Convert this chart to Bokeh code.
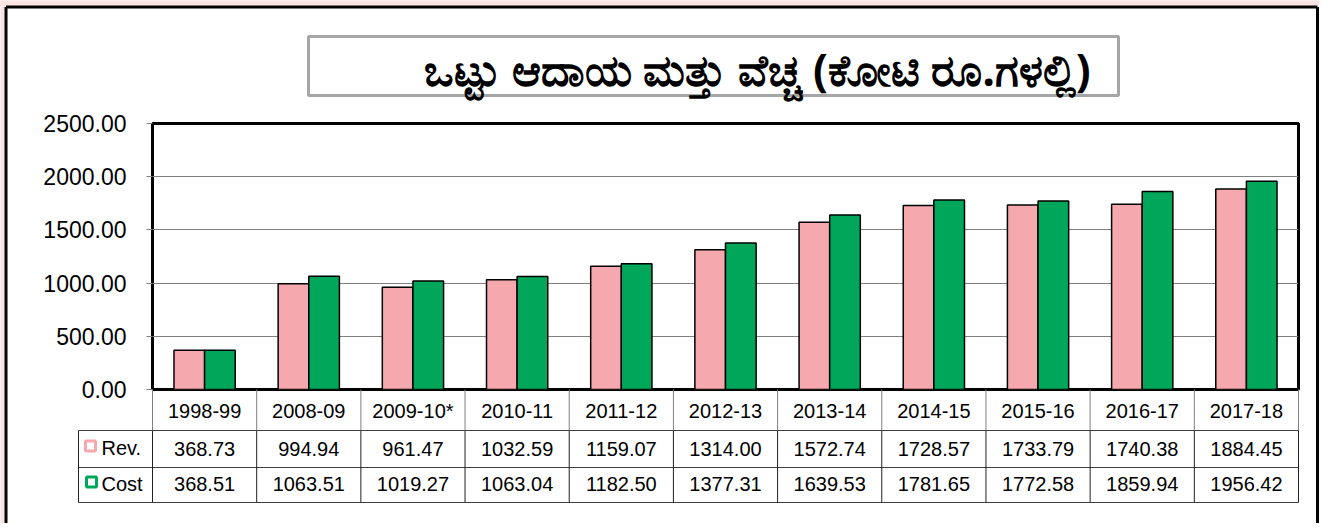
from bokeh.plotting import figure
from bokeh.models import Range1d, FixedTicker, NumeralTickFormatter, ColumnDataSource
from bokeh.core.properties import value
from bokeh.embed import file_html
from bokeh.resources import INLINE
import numpy as np

# ---------------- data ----------------
years = ["1998-99", "2008-09", "2009-10*", "2010-11", "2011-12", "2012-13",
         "2013-14", "2014-15", "2015-16", "2016-17", "2017-18"]
rev = [368.73, 994.94, 961.47, 1032.59, 1159.07, 1314.00,
       1572.74, 1728.57, 1733.79, 1740.38, 1884.45]
cost = [368.51, 1063.51, 1019.27, 1063.04, 1182.50, 1377.31,
        1639.53, 1781.65, 1772.58, 1859.94, 1956.42]
y_ticks = [0, 500, 1000, 1500, 2000, 2500]
series_names = ["Rev.", "Cost"]
title_text = "ಒಟ್ಟು ಆದಾಯ ಮತ್ತು ವೆಚ್ಚ (ಕೋಟಿ ರೂ.ಗಳಲ್ಲಿ)"

# ---------------- style ----------------
PINK = "#F5A9AE"
GREEN = "#00A65A"
BG_PINK = "#FCE4E2"
FONT = value("Liberation Sans")

W, H = 1319, 523
F_LEFT, F_RIGHT, F_TOP, F_BOTTOM = 152, 1298, 123, 389
n = len(years)
YMAX = y_ticks[-1]


def X(px):
    return (px - F_LEFT) / (F_RIGHT - F_LEFT) * n


def Y(py):
    return (F_BOTTOM - py) / (F_BOTTOM - F_TOP) * YMAX


p = figure(width=W, height=H, x_range=Range1d(0, n), y_range=Range1d(0, YMAX),
           output_backend="svg", toolbar_location=None, x_axis_location=None,
           min_border_left=F_LEFT, min_border_right=W - F_RIGHT,
           min_border_top=F_TOP, min_border_bottom=H - F_BOTTOM,
           background_fill_color="white", border_fill_color="white",
           outline_line_color="black", outline_line_width=3)

p.yaxis.ticker = FixedTicker(ticks=y_ticks)
p.yaxis.formatter = NumeralTickFormatter(format="0.00")
p.yaxis.axis_line_color = None
p.yaxis.major_tick_line_color = "#808080"
p.yaxis.major_tick_out = 6
p.yaxis.major_tick_in = 0
p.yaxis.minor_tick_line_color = None
p.yaxis.major_label_text_font = "Liberation Sans"
p.yaxis.major_label_text_font_size = "23px"
p.yaxis.major_label_text_color = "black"
p.yaxis.major_label_standoff = 20
p.ygrid.grid_line_color = "#808080"
p.ygrid.grid_line_width = 1
p.xgrid.grid_line_color = None

idx = np.arange(n)
BW = 0.294
src = ColumnDataSource(dict(year=years, rev=rev, cost=cost,
                            xr=idx + 0.5 - BW / 2, xc=idx + 0.5 + BW / 2))
p.vbar(x="xr", top="rev", bottom=0, width=BW, fill_color=PINK,
       line_color="black", line_width=1.5, source=src)
p.vbar(x="xc", top="cost", bottom=0, width=BW, fill_color=GREEN,
       line_color="black", line_width=1.5, source=src)

# ---------------- data table below plot ----------------
TBL_L = 78
R_HDR, R_REV, R_COST = 430, 467, 502
p.segment(x0=[X(TBL_L)] * 3, x1=[n] * 3, y0=[Y(R_HDR), Y(R_REV), Y(R_COST)],
          y1=[Y(R_HDR), Y(R_REV), Y(R_COST)], line_color="#404040",
          line_width=1, level="overlay")
p.segment(x0=list(range(n + 1)), x1=list(range(n + 1)), y0=[Y(F_BOTTOM)] * (n + 1),
          y1=[Y(R_HDR)] * (n + 1), line_color="#808080", line_width=1,
          level="overlay")
vx = [X(TBL_L)] + list(range(n + 1))
p.segment(x0=vx, x1=vx, y0=[Y(R_HDR)] * len(vx), y1=[Y(R_COST)] * len(vx),
          line_color="#202020", line_width=1, level="overlay")

txt_kw = dict(text_font=FONT, text_font_size="20px", text_color="black",
              text_baseline="middle", level="overlay")
p.text(x=idx + 0.5, y=[Y(410)] * n, text=years, text_align="center", **txt_kw)
p.text(x=idx + 0.5, y=[Y(448)] * n, text=[f"{v:.2f}" for v in rev],
       text_align="center", **txt_kw)
p.text(x=idx + 0.5, y=[Y(483.5)] * n, text=[f"{v:.2f}" for v in cost],
       text_align="center", **txt_kw)
p.text(x=[X(101)] * 2, y=[Y(447.5), Y(483)], text=series_names,
       text_align="left", **txt_kw)
# legend keys (hollow squares)
p.quad(left=[X(85), X(86)], right=[X(95), X(96)], top=[Y(440.5), Y(476.5)],
       bottom=[Y(450.5), Y(486.5)], fill_color="white",
       line_color=[PINK, GREEN], line_width=3, level="overlay")

# ---------------- title box ----------------
p.quad(left=[X(308)], right=[X(1118)], top=[Y(36)], bottom=[Y(95)],
       fill_color="white", line_color="#A6A6A6", line_width=3, level="overlay")
p.text(x=[X(757)], y=[Y(68)], text=[title_text], text_align="center",
       text_baseline="middle", text_font=value("Noto Sans"),
       text_font_size="44px", text_font_style="bold", text_color="black",
       level="overlay")

# ---------------- page background strips and outer frame ----------------
p.quad(left=[X(0), X(0)], right=[X(W), X(4)], top=[Y(0), Y(0)],
       bottom=[Y(5), Y(H)], fill_color=BG_PINK, line_color=None,
       level="overlay")
p.segment(x0=[X(5.5), X(5.5), X(W - 2)], x1=[X(W - 2), X(5.5), X(W - 2)],
          y0=[Y(6.5), Y(6.5), Y(6.5)], y1=[Y(6.5), Y(H), Y(H)],
          line_color="black", line_width=3, level="overlay")

open("out.html", "w").write(file_html(p, INLINE))
